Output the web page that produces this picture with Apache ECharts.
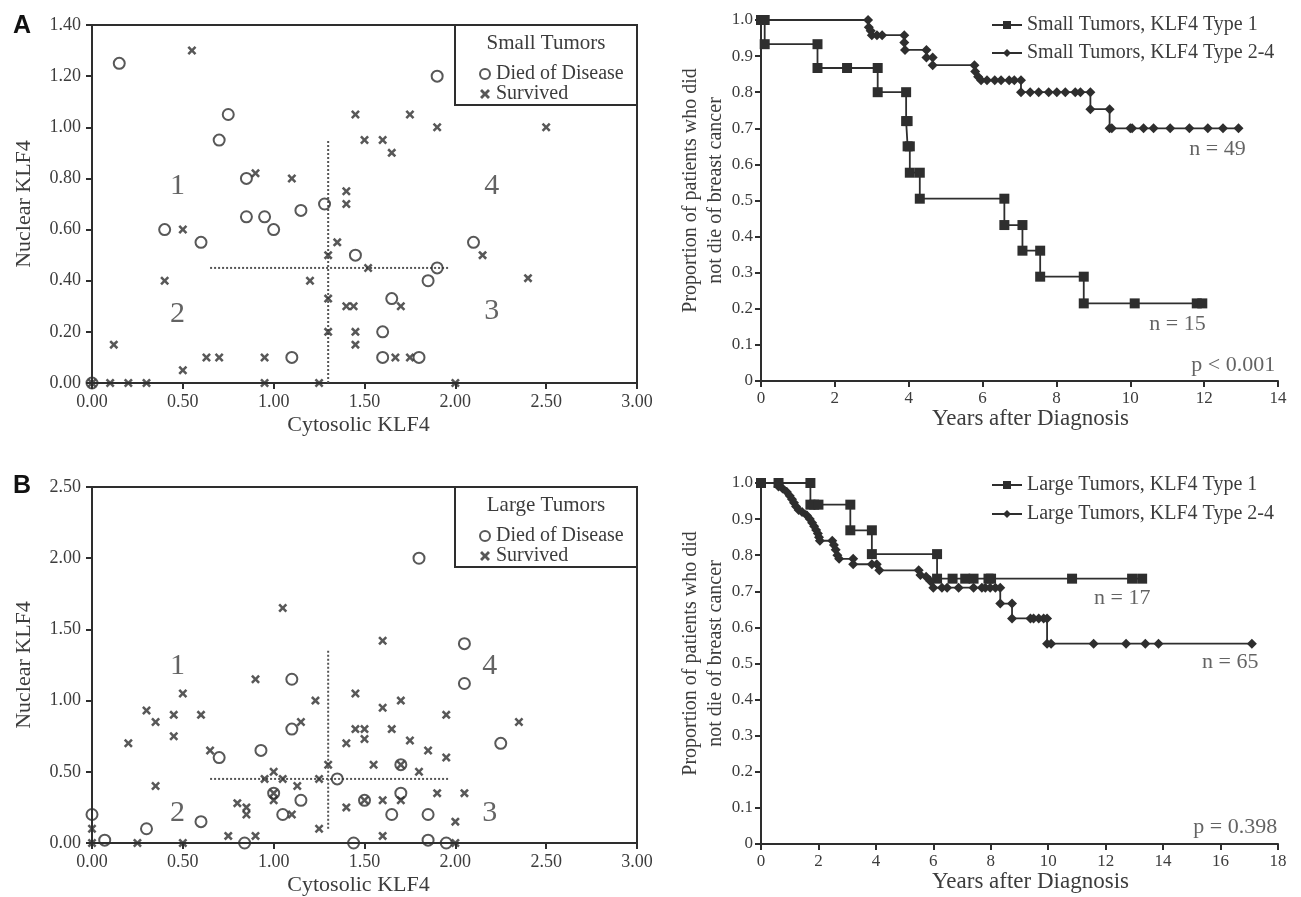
<!DOCTYPE html>
<html>
<head>
<meta charset="utf-8">
<script src="https://cdn.jsdelivr.net/npm/echarts@6/dist/echarts.min.js"></script>
<style>
html,body{margin:0;padding:0;background:#fff;}
#chart{width:1301px;height:897px;}
</style>
</head>
<body>
<div id="chart"></div>
<script>
// ---------------- DATA ----------------
// Panel A scatter (small tumors): [cytosolic, nuclear]
const smallDied = [[0.00,0.00],[0.15,1.25],[0.75,1.05],[0.70,0.95],[0.85,0.80],[0.85,0.65],[0.95,0.65],[1.00,0.60],[1.15,0.675],[1.28,0.70],[0.40,0.60],[0.60,0.55],[1.10,0.10],[1.90,1.20],[1.45,0.50],[1.90,0.45],[1.85,0.40],[2.10,0.55],[1.65,0.33],[1.60,0.20],[1.60,0.10],[1.80,0.10]];
const smallSurvived = [[0.55,1.30],[0.90,0.82],[1.10,0.80],[0.50,0.60],[0.40,0.40],[0.12,0.15],[0.63,0.10],[0.70,0.10],[0.95,0.10],[0.50,0.05],[1.20,0.40],[1.30,0.50],[1.30,0.33],[1.30,0.20],[0.00,0.00],[0.10,0.00],[0.20,0.00],[0.30,0.00],[0.95,0.00],[1.25,0.00],[2.00,0.00],[1.45,1.05],[1.75,1.05],[1.90,1.00],[2.50,1.00],[1.50,0.95],[1.60,0.95],[1.65,0.90],[1.40,0.75],[1.40,0.70],[1.35,0.55],[1.52,0.45],[2.15,0.50],[2.40,0.41],[1.40,0.30],[1.44,0.30],[1.70,0.30],[1.45,0.20],[1.45,0.15],[1.67,0.10],[1.75,0.10]];
// Panel B scatter (large tumors)
const largeDied = [[0.00,0.20],[0.07,0.02],[0.30,0.10],[0.60,0.15],[0.70,0.60],[0.84,0.00],[0.93,0.65],[1.10,1.15],[1.10,0.80],[1.00,0.35],[1.15,0.30],[1.05,0.20],[1.80,2.00],[2.05,1.40],[2.05,1.12],[2.25,0.70],[1.35,0.45],[1.70,0.55],[1.50,0.30],[1.70,0.35],[1.65,0.20],[1.85,0.20],[1.44,0.00],[1.85,0.02],[1.95,0.00]];
const largeSurvived = [[1.05,1.65],[0.90,1.15],[0.50,1.05],[0.30,0.93],[0.35,0.85],[0.45,0.90],[0.60,0.90],[0.45,0.75],[0.20,0.70],[0.65,0.65],[0.35,0.40],[1.23,1.00],[1.15,0.85],[1.00,0.50],[0.95,0.45],[1.05,0.45],[1.13,0.40],[1.25,0.45],[1.30,0.55],[0.80,0.28],[0.85,0.25],[0.85,0.20],[1.00,0.30],[1.00,0.35],[1.10,0.20],[0.75,0.05],[0.90,0.05],[1.25,0.10],[0.00,0.10],[0.00,0.00],[0.25,0.00],[0.50,0.00],[1.60,1.42],[1.45,1.05],[1.60,0.95],[1.70,1.00],[1.95,0.90],[2.35,0.85],[1.45,0.80],[1.50,0.80],[1.65,0.80],[1.40,0.70],[1.50,0.73],[1.75,0.72],[1.85,0.65],[1.95,0.60],[1.55,0.55],[1.70,0.55],[1.80,0.50],[1.90,0.35],[2.05,0.35],[1.40,0.25],[1.60,0.30],[1.70,0.30],[1.50,0.30],[2.00,0.15],[1.60,0.05],[2.00,0.00]];
// Cut-off (dotted) lines
const smallCutH = [[0.65,0.45],[1.97,0.45]];
const smallCutV = [[1.30,0.00],[1.30,0.95]];
const largeCutH = [[0.65,0.45],[1.96,0.45]];
const largeCutV = [[1.30,0.10],[1.30,1.35]];
const quadrantNames = ['1','2','3','4'];

// Kaplan-Meier curves: [years, proportion]
const smallType1 = [[0,1],[0.1,1],[0.1,0.933],[1.53,0.933],[1.53,0.867],[2.33,0.867],[3.16,0.867],[3.16,0.80],[3.93,0.80],[3.93,0.72],[3.97,0.72],[3.97,0.65],[4.03,0.65],[4.03,0.577],[4.30,0.577],[4.30,0.505],[6.59,0.505],[6.59,0.432],[7.08,0.432],[7.08,0.361],[7.56,0.361],[7.56,0.289],[8.74,0.289],[8.74,0.215],[10.12,0.215],[11.8,0.215],[11.95,0.215]];
const smallType24 = [[0,1],[2.9,1],[2.92,0.98],[2.97,0.97],[3.0,0.958],[3.14,0.958],[3.28,0.958],[3.88,0.958],[3.88,0.938],[3.9,0.917],[4.48,0.917],[4.48,0.896],[4.65,0.896],[4.65,0.875],[5.78,0.875],[5.8,0.857],[5.88,0.843],[5.96,0.833],[6.12,0.833],[6.33,0.833],[6.5,0.833],[6.72,0.833],[6.86,0.833],[7.04,0.833],[7.04,0.80],[7.29,0.80],[7.52,0.80],[7.79,0.80],[8.01,0.80],[8.24,0.80],[8.51,0.80],[8.65,0.80],[8.92,0.80],[8.92,0.753],[9.44,0.753],[9.44,0.70],[9.5,0.70],[10.0,0.70],[10.05,0.70],[10.36,0.70],[10.63,0.70],[11.08,0.70],[11.6,0.70],[12.1,0.70],[12.51,0.70],[12.93,0.70]];
const largeType1 = [[0,1],[0.61,1],[1.72,1],[1.72,0.94],[1.85,0.94],[2.0,0.94],[3.11,0.94],[3.11,0.869],[3.86,0.869],[3.86,0.803],[6.13,0.803],[6.13,0.735],[6.67,0.735],[7.11,0.735],[7.40,0.735],[7.92,0.735],[8.01,0.735],[10.83,0.735],[12.92,0.735],[13.27,0.735]];
const largeType24 = [[0,1],[0.61,1],[0.61,0.99],[0.75,0.985],[0.9,0.975],[1.0,0.965],[1.08,0.955],[1.15,0.945],[1.22,0.935],[1.31,0.925],[1.43,0.92],[1.6,0.91],[1.7,0.9],[1.78,0.89],[1.85,0.88],[1.92,0.87],[1.98,0.86],[2.02,0.85],[2.05,0.84],[2.48,0.84],[2.54,0.828],[2.6,0.815],[2.66,0.80],[2.72,0.79],[3.21,0.79],[3.21,0.775],[3.86,0.775],[4.03,0.775],[4.12,0.758],[5.49,0.758],[5.55,0.745],[5.75,0.74],[5.9,0.728],[6.0,0.71],[6.3,0.71],[6.48,0.71],[6.88,0.71],[7.4,0.71],[7.69,0.71],[7.81,0.71],[7.98,0.71],[8.16,0.71],[8.33,0.71],[8.33,0.666],[8.74,0.666],[8.74,0.625],[9.38,0.625],[9.49,0.625],[9.67,0.625],[9.84,0.625],[9.96,0.625],[9.96,0.555],[10.1,0.555],[11.58,0.555],[12.71,0.555],[13.38,0.555],[13.84,0.555],[17.09,0.555]];

const kmNames = ['Small Tumors, KLF4 Type 1','Small Tumors, KLF4 Type 2-4','Large Tumors, KLF4 Type 1','Large Tumors, KLF4 Type 2-4'];
const kmTexts = {small:['n = 49','n = 15','p < 0.001'], large:['n = 17','n = 65','p = 0.398']};

// ---------------- ANNOTATION PLACEMENT (data coords) ----------------
const quadPosSmall = [[0.47,0.77],[0.47,0.27],[2.20,0.28],[2.20,0.77]];
const quadPosLarge = [[0.47,1.24],[0.47,0.21],[2.19,0.21],[2.19,1.24]];
const kmTextPosSmall = [[12.36,0.643],[11.28,0.158],[12.79,0.044]];
const kmTextPosLarge = [[12.58,0.681],[16.34,0.504],[16.51,0.047]];

// ---------------- STYLE ----------------
const SERIF = '"Liberation Serif","Times New Roman",serif';
const LINE = '#2e2e2e';
const TXT = '#3c3c3c';
const CROSS = 'path://M0,2L2,0L5,3L8,0L10,2L7,5L10,8L8,10L5,7L2,10L0,8L3,5Z';

function scatterX(grid){
  return {gridIndex:grid,type:'value',min:0,max:3,interval:0.5,
    axisLine:{show:true,onZero:false,lineStyle:{color:LINE,width:2}},
    axisTick:{show:true,length:6,lineStyle:{color:LINE,width:2}},
    axisLabel:{formatter:v=>v.toFixed(2),fontSize:18,margin:10,color:TXT,fontFamily:SERIF},
    splitLine:{show:false},
    name:'Cytosolic KLF4',nameLocation:'middle',nameGap:31,
    nameTextStyle:{fontSize:22,color:TXT,fontFamily:SERIF,padding:[0,12,0,0]}};
}
function scatterY(grid,max,interval){
  return {gridIndex:grid,type:'value',min:0,max:max,interval:interval,
    axisLine:{show:true,onZero:false,lineStyle:{color:LINE,width:2}},
    axisTick:{show:true,length:6,lineStyle:{color:LINE,width:2}},
    axisLabel:{formatter:v=>v.toFixed(2),fontSize:18,margin:11,color:TXT,fontFamily:SERIF},
    splitLine:{show:false},
    name:'Nuclear KLF4',nameLocation:'middle',nameGap:57,nameRotate:90,
    nameTextStyle:{fontSize:22,color:TXT,fontFamily:SERIF}};
}
function kmX(grid,max){
  return {gridIndex:grid,type:'value',min:0,max:max,interval:2,
    axisLine:{show:true,onZero:false,lineStyle:{color:LINE,width:2}},
    axisTick:{show:true,length:6,lineStyle:{color:LINE,width:2}},
    axisLabel:{fontSize:17,margin:9,color:TXT,fontFamily:SERIF},
    splitLine:{show:false},
    name:'Years after Diagnosis',nameLocation:'middle',nameGap:25,
    nameTextStyle:{fontSize:23,color:TXT,fontFamily:SERIF,padding:[0,0,0,22]}};
}
function kmY(grid){
  return {gridIndex:grid,type:'value',min:0,max:1,interval:0.1,
    axisLine:{show:true,onZero:false,lineStyle:{color:LINE,width:2}},
    axisTick:{show:true,length:6,lineStyle:{color:LINE,width:2}},
    axisLabel:{formatter:v=>v===0?'0':v.toFixed(1),fontSize:17,margin:8,color:TXT,fontFamily:SERIF},
    splitLine:{show:false},
    name:'Proportion of patients who did\nnot die of breast cancer',nameLocation:'middle',nameGap:32,nameRotate:90,
    nameTextStyle:{fontSize:20,lineHeight:25,color:TXT,fontFamily:SERIF,padding:[0,0,0,20]}};
}
function died(name,xi,data){
  return {type:'scatter',name:name,xAxisIndex:xi,yAxisIndex:xi,data:data,symbol:'circle',symbolSize:11,clip:false,z:4,
    itemStyle:{color:'rgba(255,255,255,0)',borderColor:LINE,borderWidth:2}};
}
function surv(name,xi,data){
  return {type:'scatter',name:name,xAxisIndex:xi,yAxisIndex:xi,data:data,symbol:CROSS,symbolSize:9,clip:false,z:4,
    itemStyle:{color:LINE}};
}
function cut(xi,data){
  return {type:'line',xAxisIndex:xi,yAxisIndex:xi,data:data,symbol:'none',silent:true,z:2,
    lineStyle:{color:'#555',width:2,type:[2,2]}};
}
function labels(xi,pos,names,size){
  return {type:'scatter',xAxisIndex:xi,yAxisIndex:xi,symbolSize:1,silent:true,clip:false,
    itemStyle:{color:'rgba(0,0,0,0)'},
    data:pos.map((p,i)=>({value:p,name:names[i]})),
    label:{show:true,position:'inside',formatter:'{b}',fontSize:size,color:TXT,fontFamily:SERIF}};
}
function km(name,xi,data,sym,size){
  return {type:'line',name:name,xAxisIndex:xi,yAxisIndex:xi,data:data,step:'end',symbol:sym,symbolSize:size,
    showSymbol:true,showAllSymbol:true,clip:false,z:3,
    lineStyle:{color:LINE,width:1.8},itemStyle:{color:LINE}};
}

const legendText = {fontSize:20,color:TXT,fontFamily:SERIF};
const option = {
  backgroundColor:'#fff',
  animation:false,
  grid:[
    {left:92,top:25,width:545,height:358,show:true,borderColor:LINE,borderWidth:2},
    {left:92,top:487,width:545,height:356,show:true,borderColor:LINE,borderWidth:2},
    {left:761,top:20,width:517,height:361},
    {left:761,top:483,width:517,height:361}
  ],
  xAxis:[scatterX(0),scatterX(1),kmX(2,14),kmX(3,18)],
  yAxis:[scatterY(0,1.4,0.2),scatterY(1,2.5,0.5),kmY(2),kmY(3)],
  legend:[
    {data:['Died of Disease','Survived'],orient:'vertical',left:474,top:59,itemWidth:12,itemHeight:10,itemGap:0,textStyle:legendText,selectedMode:false},
    {data:['Died of Disease','Survived'],orient:'vertical',left:474,top:521,itemWidth:12,itemHeight:10,itemGap:0,textStyle:legendText,selectedMode:false},
    {data:[kmNames[0],kmNames[1]],orient:'vertical',left:986,top:10,itemWidth:30,itemHeight:10,itemGap:8,textStyle:legendText,selectedMode:false},
    {data:[kmNames[2],kmNames[3]],orient:'vertical',left:986,top:470,itemWidth:30,itemHeight:10,itemGap:9,textStyle:legendText,selectedMode:false}
  ],
  graphic:[
    {type:'rect',shape:{x:455,y:25,width:182,height:80},style:{fill:'#fff',stroke:LINE,lineWidth:2},z:10},
    {type:'text',x:546,y:43,style:{text:'Small Tumors',textAlign:'center',textVerticalAlign:'middle',font:'21px '+SERIF,fill:TXT},z:11},
    {type:'rect',shape:{x:455,y:487,width:182,height:80},style:{fill:'#fff',stroke:LINE,lineWidth:2},z:10},
    {type:'text',x:546,y:505,style:{text:'Large Tumors',textAlign:'center',textVerticalAlign:'middle',font:'21px '+SERIF,fill:TXT},z:11},
    {type:'text',x:22,y:26,style:{text:'A',textAlign:'center',textVerticalAlign:'middle',font:'bold 25px "Liberation Sans",Arial,sans-serif',fill:'#111'}},
    {type:'text',x:22,y:486,style:{text:'B',textAlign:'center',textVerticalAlign:'middle',font:'bold 25px "Liberation Sans",Arial,sans-serif',fill:'#111'}}
  ],
  series:[
    cut(0,smallCutH),cut(0,smallCutV),cut(1,largeCutH),cut(1,largeCutV),
    died('Died of Disease',0,smallDied),surv('Survived',0,smallSurvived),
    died('Died of Disease',1,largeDied),surv('Survived',1,largeSurvived),
    labels(0,quadPosSmall,quadrantNames,30),labels(1,quadPosLarge,quadrantNames,30),
    km(kmNames[0],2,smallType1,'rect',10),km(kmNames[1],2,smallType24,'diamond',10),
    km(kmNames[2],3,largeType1,'rect',10),km(kmNames[3],3,largeType24,'diamond',10),
    labels(2,kmTextPosSmall,kmTexts.small,22),labels(3,kmTextPosLarge,kmTexts.large,22)
  ]
};
option.legend.forEach(l=>{l.z=12;});
const chart = echarts.init(document.getElementById('chart'),null,{renderer:'canvas'});
chart.setOption(option);
</script>
</body>
</html>
